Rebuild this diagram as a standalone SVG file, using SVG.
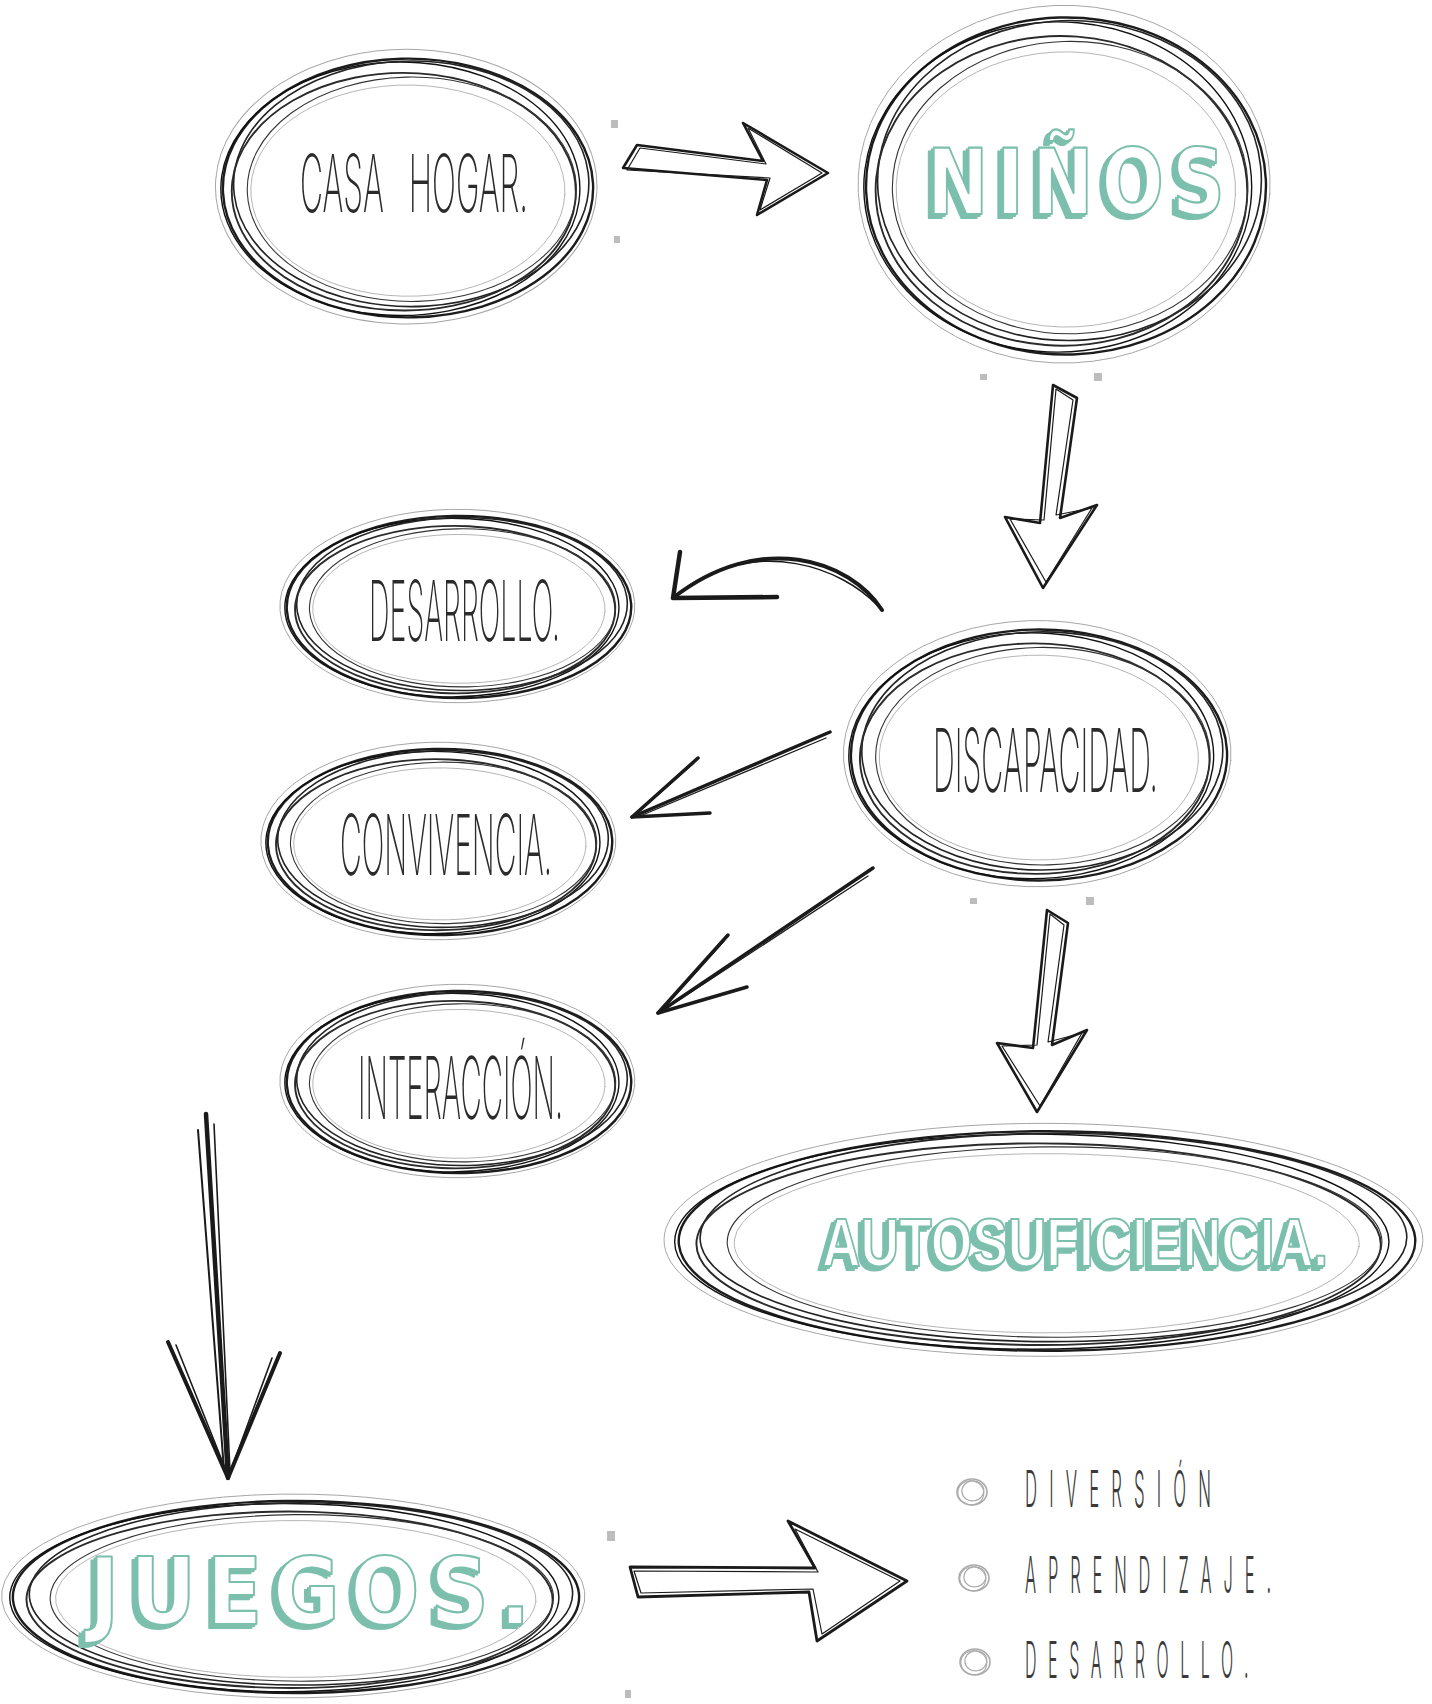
<svg xmlns="http://www.w3.org/2000/svg" xmlns:xlink="http://www.w3.org/1999/xlink" width="1432" height="1704" viewBox="0 0 1432 1704">
<style>
.s{fill:none;vector-effect:non-scaling-stroke;stroke-linecap:round}
.d1{stroke:#1c1c1c;stroke-width:2.4}
.d2{stroke:#222;stroke-width:1.6}
.d3{stroke:#2a2a2a;stroke-width:1.9}
.d4{stroke:#333;stroke-width:1.1}
.d5{stroke:#111;stroke-width:1.4}
.g1{stroke:#888;stroke-width:1;opacity:.75}
.g2{stroke:#999;stroke-width:.9;opacity:.8}
.lbl{font-family:Inter,"Open Sans","Liberation Sans",sans-serif;fill:#2b2b2b;font-weight:200}
.list{font-family:Inter,"Open Sans","Liberation Sans",sans-serif;fill:#3a3a3a;font-size:50px;font-weight:300}
.t3d{fill:#fff;stroke:#7bbfad;stroke-width:2.2;stroke-linejoin:round;filter:url(#extrude)}
.big{font-family:"DejaVu Sans","Liberation Sans",sans-serif;font-weight:bold}
.auto{font-family:"Liberation Sans",Arial,sans-serif;font-weight:bold}
.ar{fill:none;stroke:#1a1a1a;stroke-linejoin:round;stroke-linecap:round}
.handle{fill:#bdbdbd}
.bul{fill:none;stroke:#aaa}
</style>
<defs>
<filter id="extrude" x="-10%" y="-20%" width="120%" height="140%">
  <feFlood flood-color="#7bbfad" result="c"/>
  <feComposite in="c" in2="SourceAlpha" operator="in" result="sh"/>
  <feOffset in="sh" dx="-5" dy="4" result="o1"/>
  <feOffset in="sh" dx="-2.5" dy="2" result="o2"/>
  <feMerge><feMergeNode in="o1"/><feMergeNode in="o2"/><feMergeNode in="SourceGraphic"/></feMerge>
</filter>
<g id="scribble">
  <ellipse class="s g1" cx="-0.01" cy="-0.01" rx="1.02" ry="1.04" transform="rotate(3)"/>
  <ellipse class="s d1" cx="0" cy="0" rx="0.99" ry="0.98" transform="rotate(-2)"/>
  <ellipse class="s d5" cx="-0.04" cy="0.01" rx="0.96" ry="0.96" transform="rotate(6)"/>
  <ellipse class="s d2" cx="0.02" cy="-0.03" rx="0.95" ry="0.93" transform="rotate(-5)"/>
  <ellipse class="s d3" cx="-0.02" cy="0.03" rx="0.92" ry="0.9" transform="rotate(5)"/>
  <ellipse class="s d4" cx="0.02" cy="0.01" rx="0.88" ry="0.85" transform="rotate(-2)"/>
  <ellipse class="s g2" cx="0" cy="0.02" rx="0.84" ry="0.8" transform="rotate(2)"/>
</g>
<g id="bullet">
  <ellipse class="bul" cx="0" cy="0" rx="15" ry="13" stroke-width="1.6"/>
  <ellipse class="bul" cx="1" cy="-1" rx="11" ry="10" stroke-width="1.2" transform="rotate(-8)"/>
  <ellipse class="bul" cx="-1" cy="1" rx="13" ry="12" stroke-width="1" transform="rotate(10)"/>
</g>
</defs>
<rect width="1432" height="1704" fill="#fff"/>

<g id="connectors">
  <polygon class="ar" stroke-width="2.6" points="637,145 763,161 743,123 828,173 757,215 767,180 623,168"/>
  <polygon class="ar" stroke-width="1.2" points="640,148 766,164 748,128 822,173 760,210 770,178 627,170"/>
  <polygon class="ar" stroke-width="2.6" points="1053,385 1077,398 1060,518 1097,505 1043,588 1005,517 1040,523"/>
  <polygon class="ar" stroke-width="1.2" points="1056,389 1073,400 1056,515 1092,508 1046,582 1010,519 1044,520"/>
  <path class="ar" stroke-width="4" d="M882,610 C850,560 760,530 673,598"/>
  <path class="ar" stroke-width="1.5" d="M878,606 C840,566 760,540 690,585"/>
  <path class="ar" stroke-width="4.5" d="M680,552 L673,598 L777,597"/>
  <path class="ar" stroke-width="3.5" d="M830,732 L632,817"/>
  <path class="ar" stroke-width="1.3" d="M826,738 L640,816"/>
  <path class="ar" stroke-width="3.5" d="M698,758 L632,817 L710,813"/>
  <path class="ar" stroke-width="1.2" d="M694,763 L636,814"/>
  <path class="ar" stroke-width="3.5" d="M873,868 L658,1013"/>
  <path class="ar" stroke-width="1.3" d="M868,876 L664,1010"/>
  <path class="ar" stroke-width="3.5" d="M728,935 L658,1013 L747,987"/>
  <path class="ar" stroke-width="1.2" d="M724,941 L664,1008"/>
  <polygon class="ar" stroke-width="2.6" points="1047,910 1068,923 1052,1045 1087,1030 1037,1112 997,1043 1033,1048"/>
  <polygon class="ar" stroke-width="1.2" points="1050,914 1064,925 1048,1042 1082,1033 1040,1106 1002,1046 1037,1045"/>
  <path class="ar" stroke-width="4.5" d="M206,1114 L228,1478"/>
  <path class="ar" stroke-width="2" d="M198,1130 L224,1470"/>
  <path class="ar" stroke-width="1.6" d="M214,1124 L230,1472"/>
  <path class="ar" stroke-width="4" d="M168,1342 L228,1478 L280,1353"/>
  <path class="ar" stroke-width="1.6" d="M176,1345 L225,1468 M272,1358 L231,1470"/>
  <polygon class="ar" stroke-width="2.8" points="630,1567 815,1568 788,1521 907,1581 817,1641 809,1592 638,1597"/>
  <polygon class="ar" stroke-width="1.2" points="634,1571 818,1572 795,1529 900,1581 822,1634 813,1589 641,1593"/>
</g>

<g id="handles">
  <rect class="handle" x="611" y="120" width="7" height="8"/>
  <rect class="handle" x="614" y="236" width="6" height="7"/>
  <rect class="handle" x="980" y="374" width="7" height="6"/>
  <rect class="handle" x="1094" y="373" width="8" height="8"/>
  <rect class="handle" x="970" y="898" width="7" height="6"/>
  <rect class="handle" x="1086" y="897" width="8" height="8"/>
  <rect class="handle" x="607" y="1531" width="8" height="10"/>
  <rect class="handle" x="625" y="1690" width="6" height="8"/>
</g>

<g id="node-casa-hogar">
  <use xlink:href="#scribble" transform="translate(408,188) scale(187,132)"/>
  <text class="lbl" x="300" y="212" font-size="80" word-spacing="40" textLength="228" lengthAdjust="spacingAndGlyphs">CASA HOGAR.</text>
</g>

<g id="node-ninos">
  <use xlink:href="#scribble" transform="translate(1066,186) scale(202,172)"/>
  <text class="big t3d" x="927" y="214" font-size="90" letter-spacing="10" textLength="306" lengthAdjust="spacingAndGlyphs">NIÑOS</text>
</g>

<g id="node-discapacidad">
  <use xlink:href="#scribble" transform="translate(1039,755) scale(190,128)"/>
  <text class="lbl" x="933" y="792" font-size="88" textLength="225" lengthAdjust="spacingAndGlyphs">DISCAPACIDAD.</text>
</g>

<g id="node-desarrollo">
  <use xlink:href="#scribble" transform="translate(459,607) scale(174,93)"/>
  <text class="lbl" x="369" y="641" font-size="84" textLength="191" lengthAdjust="spacingAndGlyphs">DESARROLLO.</text>
</g>

<g id="node-convivencia">
  <use xlink:href="#scribble" transform="translate(440,842) scale(174,95)"/>
  <text class="lbl" x="340" y="875" font-size="84" textLength="212" lengthAdjust="spacingAndGlyphs">CONVIVENCIA.</text>
</g>

<g id="node-interaccion">
  <use xlink:href="#scribble" transform="translate(459,1082) scale(174,93)"/>
  <text class="lbl" x="358" y="1119" font-size="86" textLength="205" lengthAdjust="spacingAndGlyphs">INTERACCIÓN.</text>
</g>

<g id="node-autosuficiencia">
  <use xlink:href="#scribble" transform="translate(1047,1241) scale(372,112)"/>
  <text class="auto t3d" x="822" y="1266" font-size="68" textLength="506" lengthAdjust="spacingAndGlyphs">AUTOSUFICIENCIA.</text>
</g>

<g id="node-juegos">
  <use xlink:href="#scribble" transform="translate(296,1597) scale(286,98)"/>
  <text class="big t3d" x="89" y="1624" font-size="92" letter-spacing="12" textLength="452" lengthAdjust="spacingAndGlyphs">JUEGOS.</text>
</g>

<g id="node-list">
  <use xlink:href="#bullet" transform="translate(972,1492)"/>
  <text class="list" x="1025" y="1507" textLength="198" lengthAdjust="spacingAndGlyphs" letter-spacing="36">DIVERSIÓN</text>
  <use xlink:href="#bullet" transform="translate(974,1578)"/>
  <text class="list" x="1025" y="1593" textLength="258" lengthAdjust="spacingAndGlyphs" letter-spacing="36">APRENDIZAJE.</text>
  <use xlink:href="#bullet" transform="translate(975,1662)"/>
  <text class="list" x="1025" y="1678" textLength="235" lengthAdjust="spacingAndGlyphs" letter-spacing="36">DESARROLLO.</text>
</g>
</svg>
